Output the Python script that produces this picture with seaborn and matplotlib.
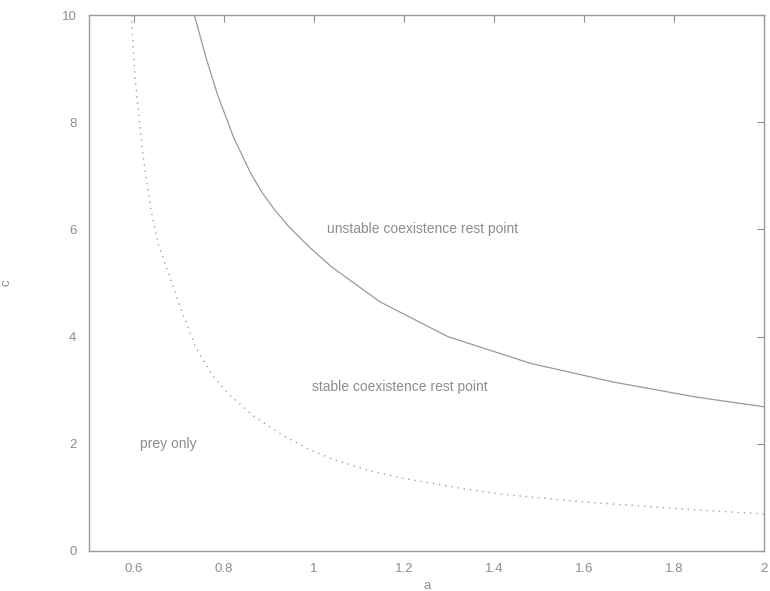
import matplotlib
matplotlib.use("Agg")
import matplotlib.pyplot as plt
import seaborn as sns

# --- datos ---
a_inestable = [0.734, 0.76, 0.786, 0.822, 0.859, 0.885, 0.911, 0.944, 0.992, 1.039, 1.146, 1.297, 1.481, 1.666, 1.85, 2.0]
c_inestable = [10.0, 9.2, 8.5, 7.7, 7.05, 6.68, 6.38, 6.05, 5.65, 5.30, 4.65, 4.0, 3.5, 3.15, 2.87, 2.69]

a_presa = [0.594, 0.602, 0.613, 0.624, 0.638, 0.653, 0.679, 0.705, 0.738, 0.774, 0.811, 0.865, 0.93,
           0.988, 1.039, 1.114, 1.194, 1.326, 1.415, 1.591, 1.74, 1.843, 2.0]
c_presa = [10.0, 8.85, 7.92, 7.11, 6.36, 5.74, 5.12, 4.5, 3.78, 3.28, 2.92, 2.52, 2.16,
           1.90, 1.72, 1.52, 1.36, 1.17, 1.06, 0.92, 0.83, 0.77, 0.69]

xticks = [0.6, 0.8, 1.0, 1.2, 1.4, 1.6, 1.8, 2.0]
xtick_labels = ["0.6", "0.8", "1", "1.2", "1.4", "1.6", "1.8", "2"]
yticks = [0, 2, 4, 6, 8, 10]

etiquetas = ["unstable coexistence rest point", "stable coexistence rest point", "prey only"]
pos_a = [1.028, 0.995, 0.613]
pos_c = [6.0, 3.06, 2.0]

sns.set_style("white")
plt.rcParams['font.family'] = ['Liberation Sans', 'DejaVu Sans']

gris = '#8c8c8c'
fig = plt.figure(figsize=(7.7, 5.91), dpi=100)
ax = fig.add_axes([0.1156, 0.0677, 0.877, 0.9069])

sns.lineplot(x=a_presa, y=c_presa, ax=ax, color='#a0a0a0', lw=1.0,
             linestyle=(0, (1, 3.5)), sort=False)
sns.lineplot(x=a_inestable, y=c_inestable, ax=ax, color='#9a9a9a', lw=0.9, sort=False)

ax.set_xlim(0.5, 2.0)
ax.set_ylim(0, 10)
ax.set_xticks(xticks)
ax.set_xticklabels(xtick_labels)
ax.set_yticks(yticks)
ax.tick_params(direction='in', length=5, width=0.8, color=gris, labelcolor=gris,
               labelsize=9.5, top=True, right=True, pad=9)

for s in ax.spines.values():
    s.set_color('#999999')
    s.set_linewidth(1.0)

ax.set_xlabel("a", color=gris, fontsize=9.5)
ax.set_ylabel("c", color=gris, fontsize=9.5)
ax.xaxis.set_label_coords(0.5, -0.054)
ax.yaxis.set_label_coords(-0.114, 0.5)

for txt, xa, yc in zip(etiquetas, pos_a, pos_c):
    ax.text(xa, yc, txt, color=gris, fontsize=10, va='center', ha='left')

fig.savefig("out.png", dpi=100)
